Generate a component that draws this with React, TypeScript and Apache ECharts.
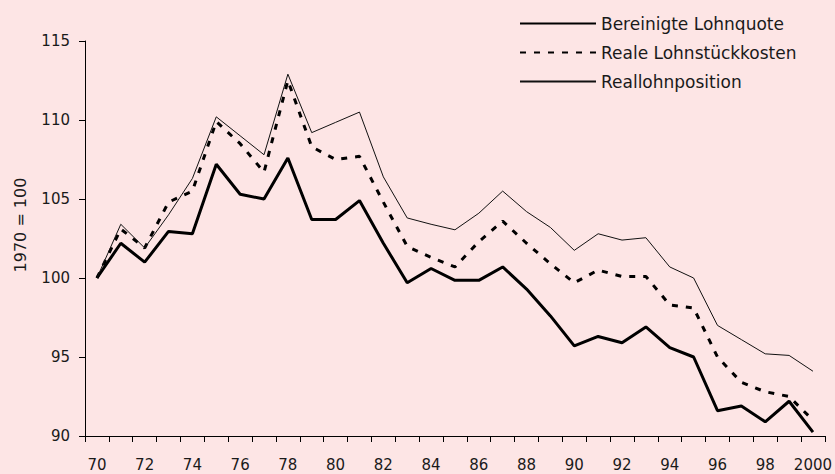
import React, { useEffect, useRef } from "react";
import * as echarts from "echarts";

const years: string[] = [];
for (let y = 1970; y <= 2000; y++) years.push(String(y));

const seriesNames = ["Bereinigte Lohnquote", "Reale Lohnstückkosten", "Reallohnposition"];

const bereinigteLohnquote = [
  100, 102.2, 101.0, 102.95, 102.8, 107.2, 105.3, 105.0, 107.6, 103.7,
  103.7, 104.9, 102.2, 99.7, 100.6, 99.85, 99.85, 100.7, 99.3, 97.6,
  95.7, 96.3, 95.9, 96.9, 95.6, 95.0, 91.6, 91.9, 90.9, 92.2, 90.25,
];

const realeLohnstueckkosten = [
  100, 103.1, 101.9, 104.8, 105.5, 109.9, 108.5, 106.7, 112.5, 108.3,
  107.5, 107.7, 104.8, 102.0, 101.3, 100.7, 102.3, 103.6, 102.2, 100.9,
  99.7, 100.5, 100.1, 100.1, 98.3, 98.1, 95.0, 93.4, 92.8, 92.5, 91.0,
];

const reallohnposition = [
  100, 103.4, 101.9, 104.0, 106.3, 110.2, 109.0, 107.8, 112.9, 109.2,
  109.85, 110.5, 106.4, 103.8, 103.4, 103.05, 104.1, 105.5, 104.2, 103.2,
  101.75, 102.8, 102.4, 102.55, 100.7, 100.0, 97.0, 96.1, 95.2, 95.1, 94.1,
];

const yTicks = { min: 90, max: 115, interval: 5 };
const yAxisTitle = "1970 = 100";

const FONT = "'DejaVu Sans', sans-serif";

export default function App() {
  const ref = useRef<HTMLDivElement>(null);
  useEffect(() => {
    document.body.style.margin = "0";
    if (!ref.current) return;
    const chart = echarts.init(ref.current, undefined, { renderer: "svg" });
    chart.setOption({
      animation: false,
      backgroundColor: "#FDE5E5",
      textStyle: { fontFamily: FONT },
      grid: { left: 85, right: 7, top: 41, bottom: 38, containLabel: false },
      legend: {
        orient: "vertical",
        left: 514,
        top: 10,
        itemWidth: 76,
        itemHeight: 14,
        itemGap: 12,
        itemStyle: { opacity: 0 },
        textStyle: { fontFamily: FONT, fontSize: 17, color: "#1a1a1a" },
        data: seriesNames,
      },
      xAxis: {
        type: "category",
        data: years,
        boundaryGap: true,
        axisLine: { lineStyle: { color: "#000", width: 1 } },
        axisTick: { show: true, interval: 0, length: 6, inside: false, lineStyle: { color: "#000" } },
        axisLabel: {
          interval: 1,
          margin: 21,
          fontSize: 15,
          color: "#1a1a1a",
          fontFamily: FONT,
          formatter: (v: string) => (v === "2000" ? "2000" : v.slice(2)),
        },
        splitLine: { show: false },
      },
      yAxis: {
        type: "value",
        min: yTicks.min,
        max: yTicks.max,
        interval: yTicks.interval,
        axisLine: { show: true, lineStyle: { color: "#000", width: 1 } },
        axisTick: { show: true, length: 6, lineStyle: { color: "#000" } },
        axisLabel: { margin: 15, fontSize: 15, color: "#1a1a1a", fontFamily: FONT },
        splitLine: { show: false },
      },
      graphic: [
        {
          type: "text",
          x: 20,
          y: 225,
          rotation: Math.PI / 2,
          style: {
            text: yAxisTitle,
            fontSize: 16,
            fontFamily: FONT,
            fill: "#1a1a1a",
            align: "center",
            verticalAlign: "middle",
          },
        },
      ],
      series: [
        {
          name: seriesNames[0],
          type: "line",
          data: bereinigteLohnquote,
          symbol: "none",
          lineStyle: { color: "#000", width: 3, type: "solid" },
          itemStyle: { color: "#000" },
        },
        {
          name: seriesNames[1],
          type: "line",
          data: realeLohnstueckkosten,
          symbol: "none",
          lineStyle: { color: "#000", width: 3, type: [6, 8] },
          itemStyle: { color: "#000" },
        },
        {
          name: seriesNames[2],
          type: "line",
          data: reallohnposition,
          symbol: "none",
          lineStyle: { color: "#111", width: 1, type: "solid" },
          itemStyle: { color: "#111" },
        },
      ],
    });
    return () => chart.dispose();
  }, []);
  return <div ref={ref} style={{ width: 835, height: 474 }} />;
}
